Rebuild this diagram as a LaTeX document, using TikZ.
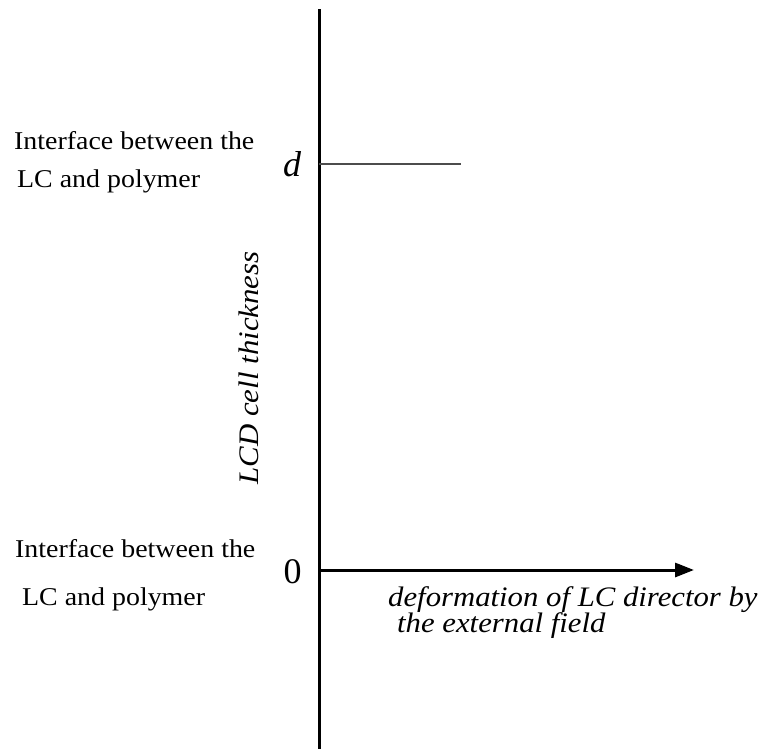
\documentclass[tikz,border=0pt]{standalone}
\usepackage{fontspec}
\setmainfont[FakeStretch=1.09]{Liberation Serif}
\newfontfamily\axisfont{Liberation Serif}
\usetikzlibrary{arrows.meta}

\begin{document}
\begin{tikzpicture}[x=1pt,y=-1pt,
    interface/.style={align=left, inner sep=0pt, anchor=base west},
    axislabel/.style={inner sep=0pt, font=\axisfont\fontsize{36}{40}\selectfont},
    axisline/.style={line width=3pt}]
  \useasboundingbox (0,0) rectangle (769,749);

  % Axes
  \coordinate (origin) at (319,570);
  \coordinate (top) at (319,9);
  \coordinate (bottom) at (319,749);
  \coordinate (tip) at (694,570);
  \coordinate (dmark) at (319,164);
  \coordinate (dend) at (461,164);
  \draw[axisline] (bottom) -- (top);
  \draw[axisline, -{Triangle[length=19pt,width=14pt]}] (origin) -- (tip);
  \draw[line width=1.4pt, black!70] (dmark) -- (dend);

  % Marks on the thickness axis
  \node[axislabel, anchor=base, font=\axisfont\itshape\fontsize{36}{40}\selectfont] (dlabel) at (292,177) {d};
  \node[axislabel, anchor=base] (zerolabel) at (292.5,583) {0};

  % Upper interface (base = last line)
  \node[interface, font=\fontsize{25.6}{39}\selectfont] (upper) at (14,188) {
    Interface between the \\
    \hspace*{3pt}LC and polymer};

  % Lower interface
  \node[interface, font=\fontsize{25.6}{48}\selectfont] (lower) at (15,605) {
    Interface between the \\
    \hspace*{7pt}LC and polymer};

  % Axis titles
  \node[inner sep=0pt, rotate=90, font=\itshape\fontsize{28.3}{30}\selectfont] (thickness) at (249,368) {LCD cell thickness};
  \node[interface, font=\itshape\fontsize{28.2}{26}\selectfont] (deform) at (388,632) {
    deformation of LC director by \\
    \hspace*{9pt}the external field};
\end{tikzpicture}
\end{document}
